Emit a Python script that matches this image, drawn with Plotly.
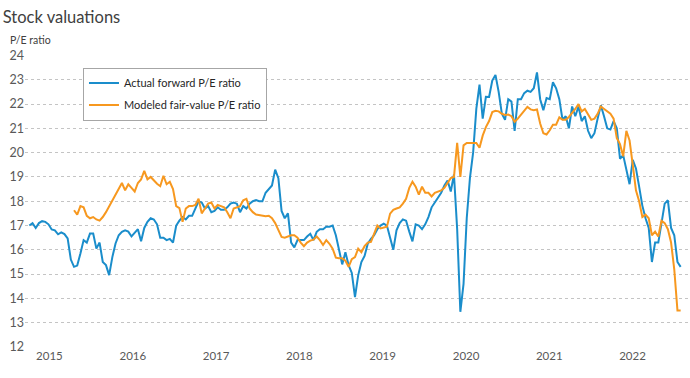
import pandas as pd
import plotly.graph_objects as go

# ---- data (bi-weekly sampling) ----
actual_start = "2015-01-14"
actual_pe = [
    17.0, 17.1, 16.9, 17.1, 17.18, 17.15, 17.05, 16.84, 16.8, 16.64,
    16.72, 16.65, 16.47, 15.6, 15.3, 15.35, 15.85, 16.4, 16.3, 16.67,
    16.67, 16.05, 16.3, 15.5, 15.37, 14.96, 15.7, 16.26, 16.6, 16.74,
    16.8, 16.75, 16.55, 16.7, 16.85, 16.35, 16.9, 17.15, 17.3, 17.25,
    17.05, 16.5, 16.5, 16.4, 16.45, 16.3, 17.0, 17.2, 17.35, 17.25,
    17.4, 17.4, 17.7, 18.0, 17.95, 17.7, 17.8, 17.55, 17.6, 17.75,
    17.65, 17.65, 17.75, 17.9, 17.95, 17.9, 17.55, 17.8, 17.7, 17.9,
    18.0, 18.05, 18.0, 18.0, 18.35, 18.5, 18.65, 19.3, 18.95, 17.6,
    17.3, 17.5, 16.3, 16.1, 16.4, 16.4, 16.4, 16.55, 16.66, 16.4,
    16.74, 16.85, 16.85, 16.95, 16.95, 17.0, 16.6, 16.0, 15.4, 15.9,
    15.37, 15.05, 14.05, 14.95, 15.5, 15.75, 16.25, 16.45, 16.6, 16.85,
    17.0, 17.08, 17.0, 16.5, 16.0, 16.8, 17.1, 17.25, 17.2, 16.75,
    16.35, 17.05, 17.0, 16.85, 17.05, 17.35, 17.75, 17.95, 18.15, 18.35,
    18.65, 18.85, 18.4, 19.1, 16.85, 13.45, 14.6, 17.3, 18.95, 20.0,
    21.8, 22.8, 21.4, 22.3, 22.29, 22.97, 23.2, 22.5, 21.6, 21.35,
    22.2, 22.1, 20.9, 22.2, 22.2, 22.45, 22.55, 22.5, 22.65, 23.3,
    22.2, 21.75, 22.25, 22.2, 22.9, 22.65, 22.2, 21.35, 21.5, 21.0,
    21.9, 21.5, 21.9, 21.3, 21.5, 20.9, 20.6, 20.8, 21.4, 21.95,
    21.5, 21.0, 20.95, 21.3, 21.0, 19.75, 19.9, 19.3, 18.7, 19.7,
    19.35, 18.6, 17.82, 17.3, 16.9, 15.5, 16.3, 16.3, 17.1, 17.9,
    18.04, 16.9, 16.6, 15.5, 15.3,
]
modeled_start = "2015-07-29"
modeled_pe = [
    17.63, 17.45, 17.8, 17.75, 17.4, 17.3, 17.35, 17.25, 17.2, 17.35,
    17.55, 17.8, 18.0, 18.3, 18.5, 18.75, 18.45, 18.7, 18.55, 18.4,
    18.75, 18.9, 19.25, 18.9, 19.0, 18.85, 18.72, 18.62, 19.05, 18.7,
    18.8, 18.5, 17.8, 17.72, 17.15, 17.7, 17.8, 17.8, 17.85, 18.1,
    17.5, 17.7, 17.9, 17.95, 17.7, 17.85, 17.8, 17.75, 17.55, 17.3,
    17.7, 17.76, 17.8, 18.04, 18.1, 17.7, 17.55, 17.45, 17.43, 17.42,
    17.38, 17.4, 17.3, 17.1, 16.8, 16.53, 16.5, 16.55, 16.6, 16.6,
    16.5, 16.3, 16.15, 16.3, 16.38, 16.42, 16.55, 16.4, 16.2, 16.4,
    16.25, 16.05, 15.68, 15.65, 15.65, 15.55, 15.3, 15.62, 15.7, 16.05,
    15.9, 16.15, 16.3, 16.33, 16.65, 17.0, 16.88, 16.9, 16.95, 17.49,
    17.65, 17.7, 17.75, 17.9, 18.1, 18.55, 18.8, 18.6, 18.27, 18.6,
    18.35, 18.35, 18.2, 18.35, 18.4, 18.45, 18.55, 18.75, 18.95, 19.0,
    20.4, 19.0, 20.3, 20.4, 20.4, 20.37, 20.4, 20.2, 20.7, 21.05,
    21.3, 21.67, 21.72, 21.7, 21.6, 21.55, 21.57, 21.5, 21.27, 21.4,
    21.55, 21.7, 21.88, 21.78, 21.75, 21.78, 21.2, 20.8, 20.75, 20.92,
    21.15, 21.15, 21.45, 21.35, 21.35, 21.47, 21.62, 21.8, 22.0, 21.7,
    21.8, 21.6, 21.35, 21.4, 21.6, 21.9, 21.8, 21.7, 21.6, 21.4,
    20.6, 20.35, 19.85, 20.9, 20.5, 19.5, 18.45, 18.0, 17.35, 17.45,
    17.3, 16.6, 16.75, 16.55, 17.2, 17.1, 16.85, 16.3, 15.2, 13.5,
    13.5,
]
year_labels = ["2015", "2016", "2017", "2018", "2019", "2020", "2021", "2022"]
y_ticks = list(range(12, 25))

actual_dates = pd.date_range(actual_start, periods=len(actual_pe), freq="14D")
modeled_dates = pd.date_range(modeled_start, periods=len(modeled_pe), freq="14D")
year_tickvals = [f"{y}-04-12" for y in year_labels]

BLUE = "#1A8DCB"
ORANGE = "#F7981F"
FONT = "Lato, 'Open Sans', sans-serif"

fig = go.Figure()
fig.add_trace(go.Scatter(x=actual_dates, y=actual_pe, mode="lines",
                         name="Actual forward P/E ratio", legendgroup="a",
                         line=dict(color=BLUE, width=2)))
fig.add_trace(go.Scatter(x=modeled_dates, y=modeled_pe, mode="lines",
                         name="Modeled fair-value P/E ratio", legendgroup="m",
                         line=dict(color=ORANGE, width=2)))

fig.update_layout(
    width=690, height=378,
    margin=dict(l=25, r=0, t=55, b=31),
    paper_bgcolor="white", plot_bgcolor="white",
    font=dict(family=FONT, color="#595959", size=12),
    title=dict(text="Stock valuations", x=0.004, xanchor="left",
               y=0.955, yanchor="middle",
               font=dict(family=FONT, size=16.5, color="#404040")),
    legend=dict(x=0.0872, y=0.957, xanchor="left", yanchor="top",
                bgcolor="white", bordercolor="#A6A6A6", borderwidth=1,
                font=dict(family=FONT, size=11, color="#262626"),
                itemwidth=30, traceorder="grouped", tracegroupgap=3),
    annotations=[dict(text="P/E ratio", xref="paper", yref="paper",
                      x=-0.025, y=1.052, xanchor="left", yanchor="middle",
                      showarrow=False,
                      font=dict(family=FONT, size=10.5, color="#404040"))],
)
fig.update_xaxes(range=["2014-12-26", "2022-12-20"], tickvals=year_tickvals,
                 ticktext=year_labels, showgrid=False, zeroline=False,
                 showline=False, ticks="", automargin=False,
                 tickfont=dict(size=11.5, color="#595959"))
fig.update_yaxes(range=[12, 24.02], tickvals=y_ticks, showgrid=True,
                 gridcolor="#C4C4C4", griddash="dot", gridwidth=1,
                 zeroline=False, showline=False, ticks="", automargin=False,
                 tickfont=dict(size=12.5, color="#595959"))

fig.write_html("out.html", config={"displayModeBar": False},
               post_script="document.body.style.margin='0';document.body.style.padding='0';")
